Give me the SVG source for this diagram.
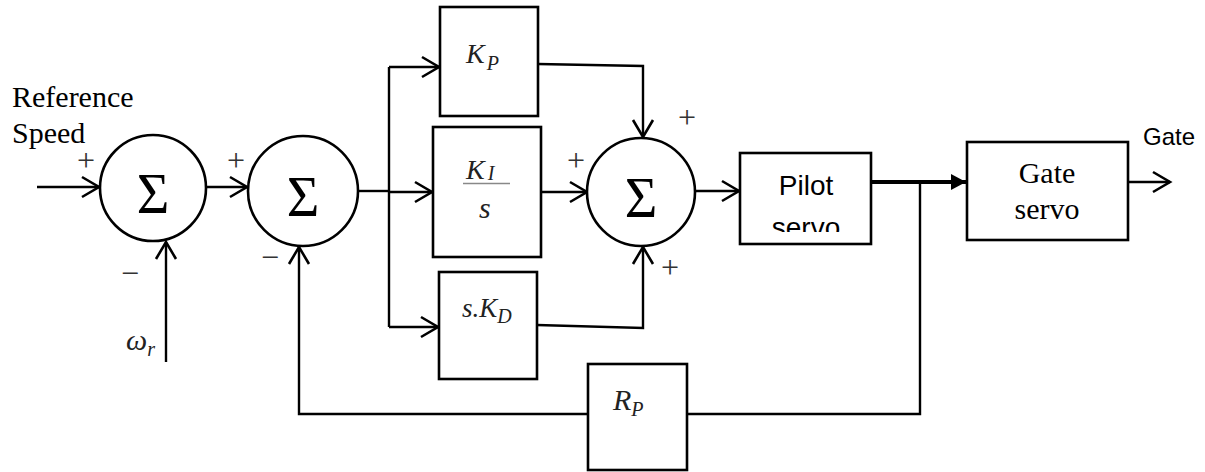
<svg xmlns="http://www.w3.org/2000/svg" width="1205" height="472" viewBox="0 0 1205 472">
<style>
.ln{fill:none;stroke:#000;stroke-width:2.4;stroke-linejoin:miter}
.box{fill:#fff;stroke:#000;stroke-width:2.6}
.sum{fill:#fff;stroke:#000;stroke-width:2.6}
.sig{font-family:"Liberation Serif",serif;font-size:56px;text-anchor:middle}
.serif{font-family:"Liberation Serif","Times New Roman",serif}
.sans{font-family:"Liberation Sans",Arial,sans-serif}
.sign{font-family:"Liberation Serif",serif;font-size:32px;text-anchor:middle;fill:#333}
.math{font-family:"Liberation Serif",serif;font-style:italic;fill:#222}
</style>
<defs>
<marker id="open" markerUnits="userSpaceOnUse" markerWidth="20" markerHeight="24" refX="0" refY="0" orient="auto" overflow="visible">
<path d="M-17,-10 L0,0 L-17,10" fill="none" stroke="#000" stroke-width="2.6"/>
</marker>
<marker id="solid" markerUnits="userSpaceOnUse" markerWidth="20" markerHeight="20" refX="0" refY="0" orient="auto" overflow="visible">
<path d="M-15,-8 L0,0 L-15,8 Z" fill="#000"/>
</marker>
<clipPath id="pilotclip"><rect x="741" y="154" width="129" height="78"/></clipPath>
</defs>

<g id="connectors">
<path class="ln" d="M37,187 L99,187" marker-end="url(#open)"/>
<path class="ln" d="M207,187 L247,187" marker-end="url(#open)"/>
<path class="ln" d="M166,362 L166,242" marker-end="url(#open)"/>
<path class="ln" d="M358,191 L389,191"/>
<path class="ln" d="M389,67 L389,327"/>
<path class="ln" d="M389,67 L439,67" marker-end="url(#open)"/>
<path class="ln" d="M389,192 L432,192" marker-end="url(#open)"/>
<path class="ln" d="M389,327 L438,327" marker-end="url(#open)"/>
<path class="ln" d="M538,64 L643,66 L643,137" marker-end="url(#open)"/>
<path class="ln" d="M541,192 L587,192" marker-end="url(#open)"/>
<path class="ln" d="M537,325 L643,328 L643,247" marker-end="url(#open)"/>
<path class="ln" d="M695,191 L739,191" marker-end="url(#open)"/>
<path d="M871,182 L966,182" fill="none" stroke="#000" stroke-width="4" marker-end="url(#solid)"/>
<path class="ln" d="M920,182 L920,414 L687,414"/>
<path class="ln" d="M588,414 L299,414 L299,247" marker-end="url(#open)"/>
<path class="ln" d="M1128,182 L1170,182" marker-end="url(#open)"/>
</g>

<g id="label-ref">
<text class="serif" x="12" y="107" font-size="30">Reference</text>
<text class="serif" x="12" y="143" font-size="30">Speed</text>
</g>

<g id="sum1">
<circle class="sum" cx="153" cy="188" r="53"/>
<text class="sig" x="153" y="213">Σ</text>
<text class="sign" x="86" y="171">+</text>
<text class="sign" x="130" y="284">−</text>
</g>

<g id="sum2">
<circle class="sum" cx="303" cy="191" r="55"/>
<text class="sig" x="303" y="216">Σ</text>
<text class="sign" x="236" y="171">+</text>
<text class="sign" x="270" y="268">−</text>
</g>

<g id="omega">
<text class="math" x="126" y="350" font-size="30">ω<tspan font-size="20" dy="6">r</tspan></text>
</g>

<g id="kp">
<rect class="box" x="440" y="7" width="98" height="109"/>
<text class="math" x="466" y="63" font-size="28">K<tspan font-size="20" dy="7" dx="2">P</tspan></text>
</g>

<g id="ki">
<rect class="box" x="433" y="127" width="108" height="130"/>
<text class="math" x="466" y="179" font-size="28">K<tspan font-size="20" dy="1" dx="3">I</tspan></text>
<line x1="463" y1="183.5" x2="510" y2="183.5" stroke="#888" stroke-width="1.6"/>
<text class="math" x="479" y="218" font-size="30">s</text>
</g>

<g id="kd">
<rect class="box" x="439" y="272" width="98" height="107"/>
<text class="math" x="462" y="317" font-size="27">s.K<tspan font-size="20" dy="6">D</tspan></text>
</g>

<g id="sum3">
<circle class="sum" cx="641" cy="192" r="54"/>
<text class="sig" x="641" y="217">Σ</text>
<text class="sign" x="576" y="171">+</text>
<text class="sign" x="687" y="128">+</text>
<text class="sign" x="670" y="278">+</text>
</g>

<g id="pilot">
<rect class="box" x="740" y="153" width="131" height="91"/>
<g clip-path="url(#pilotclip)">
<text class="sans" x="806" y="195" font-size="28" text-anchor="middle">Pilot</text>
<text class="sans" x="806" y="237" font-size="28" text-anchor="middle">servo</text>
</g>
</g>

<g id="gateservo">
<rect class="box" x="967" y="142" width="161" height="98"/>
<text class="serif" x="1047" y="183" font-size="30" text-anchor="middle">Gate</text>
<text class="serif" x="1047" y="219" font-size="30" text-anchor="middle">servo</text>
</g>

<g id="label-gate">
<text class="sans" x="1143" y="145" font-size="24">Gate</text>
</g>

<g id="rp">
<rect class="box" x="588" y="364" width="99" height="106"/>
<text class="math" x="613" y="410" font-size="30">R<tspan font-size="20" dy="6">P</tspan></text>
</g>
</svg>
